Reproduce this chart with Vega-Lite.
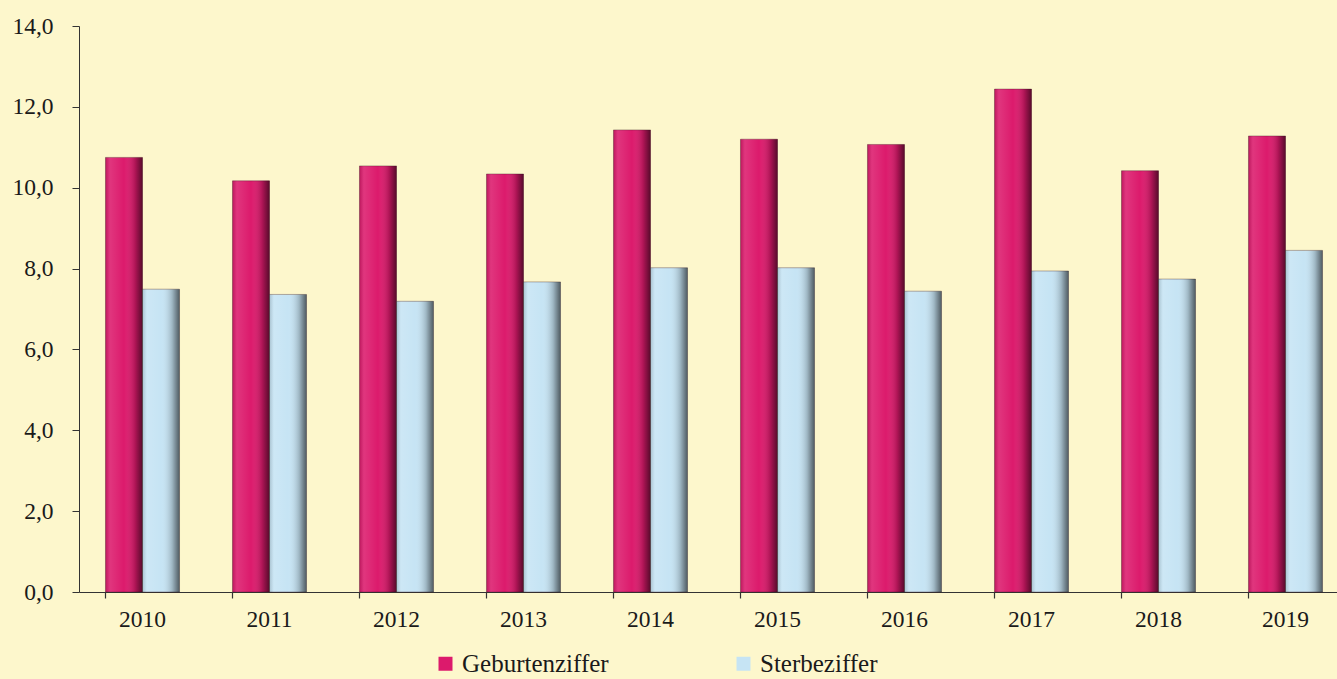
{
  "$schema": "https://vega.github.io/schema/vega-lite/v6.json",
  "width": 1270,
  "height": 566,
  "autosize": "none",
  "padding": {"left": 79, "top": 26, "right": 0, "bottom": 87},
  "background": "#FDF7CC",
  "config": {
    "view": {"stroke": null},
    "font": "Liberation Serif",
    "axis": {"labelFont": "Liberation Serif", "labelFontSize": 23.5, "labelColor": "#1a1a1a", "domainColor": "#333333", "tickColor": "#333333", "grid": false}
  },
  "resolve": {"axis": {"x": "independent"}},
  "data": {
    "values": [
      {"year": "2010", "series": "Geburtenziffer", "value": 10.75},
      {"year": "2010", "series": "Sterbeziffer", "value": 7.49},
      {"year": "2011", "series": "Geburtenziffer", "value": 10.17},
      {"year": "2011", "series": "Sterbeziffer", "value": 7.36},
      {"year": "2012", "series": "Geburtenziffer", "value": 10.54},
      {"year": "2012", "series": "Sterbeziffer", "value": 7.19},
      {"year": "2013", "series": "Geburtenziffer", "value": 10.34},
      {"year": "2013", "series": "Sterbeziffer", "value": 7.67},
      {"year": "2014", "series": "Geburtenziffer", "value": 11.43},
      {"year": "2014", "series": "Sterbeziffer", "value": 8.02},
      {"year": "2015", "series": "Geburtenziffer", "value": 11.2},
      {"year": "2015", "series": "Sterbeziffer", "value": 8.02},
      {"year": "2016", "series": "Geburtenziffer", "value": 11.07},
      {"year": "2016", "series": "Sterbeziffer", "value": 7.44},
      {"year": "2017", "series": "Geburtenziffer", "value": 12.44},
      {"year": "2017", "series": "Sterbeziffer", "value": 7.94},
      {"year": "2018", "series": "Geburtenziffer", "value": 10.42},
      {"year": "2018", "series": "Sterbeziffer", "value": 7.74},
      {"year": "2019", "series": "Geburtenziffer", "value": 11.28},
      {"year": "2019", "series": "Sterbeziffer", "value": 8.45}
    ]
  },
  "layer": [
    {
      "mark": {"type": "bar", "stroke": "#3a1a20", "strokeWidth": 0.6, "strokeOpacity": 0.6},
      "encoding": {
        "x": {
          "field": "year", "type": "nominal", "title": null,
          "scale": {"paddingInner": 0.417, "paddingOuter": 0.2085},
          "axis": {"labelAngle": 0, "ticks": false, "labelPadding": 15, "domain": false}
        },
        "xOffset": {"field": "series", "type": "nominal", "scale": {"paddingInner": 0, "paddingOuter": 0}},
        "y": {
          "field": "value", "type": "quantitative", "title": null,
          "scale": {"domain": [0, 14], "nice": false},
          "axis": {"values": [0, 2, 4, 6, 8, 10, 12, 14], "tickSize": 7, "labelPadding": 19, "labelExpr": "replace(format(datum.value, '.1f'), '.', ',')"}
        },
        "color": {
          "field": "series", "type": "nominal",
          "scale": {"domain": ["Geburtenziffer", "Sterbeziffer"], "range": ["#DC1A6C", "#C6E4F4"]},
          "legend": {
            "orient": "none", "legendX": 354, "legendY": 625, "direction": "horizontal", "title": null,
            "labelFont": "Liberation Serif", "labelFontSize": 25, "labelColor": "#1a1a1a",
            "symbolType": "square", "symbolSize": 196, "symbolStrokeWidth": 0, "columnPadding": 122, "labelOffset": 4
          }
        }
      }
    },
    {
      "mark": {
        "type": "bar",
        "fill": {"gradient": "linear", "x1": 0, "y1": 0, "x2": 1, "y2": 0,
          "stops": [
            {"offset": 0, "color": "rgba(0,0,0,0.15)"},
            {"offset": 0.12, "color": "rgba(255,255,255,0.12)"},
            {"offset": 0.5, "color": "rgba(255,255,255,0.0)"},
            {"offset": 0.8, "color": "rgba(0,0,0,0.2)"},
            {"offset": 1, "color": "rgba(0,0,0,0.6)"}
          ]}
      },
      "encoding": {
        "x": {"field": "year", "type": "nominal", "axis": null},
        "xOffset": {"field": "series", "type": "nominal"},
        "y": {"field": "value", "type": "quantitative"}
      }
    },
    {
      "mark": {"type": "rule", "strokeWidth": 1.2, "color": "#333333", "opacity": 0},
      "encoding": {
        "x": {"field": "year", "type": "nominal", "bandPosition": 0, "title": null, "axis": {"labels": false, "ticks": true, "tickSize": 6, "tickWidth": 1.2, "bandPosition": 0, "domain": true, "domainWidth": 1.2, "orient": "bottom"}},
        "y": {"datum": 0}
      }
    }
  ]
}
